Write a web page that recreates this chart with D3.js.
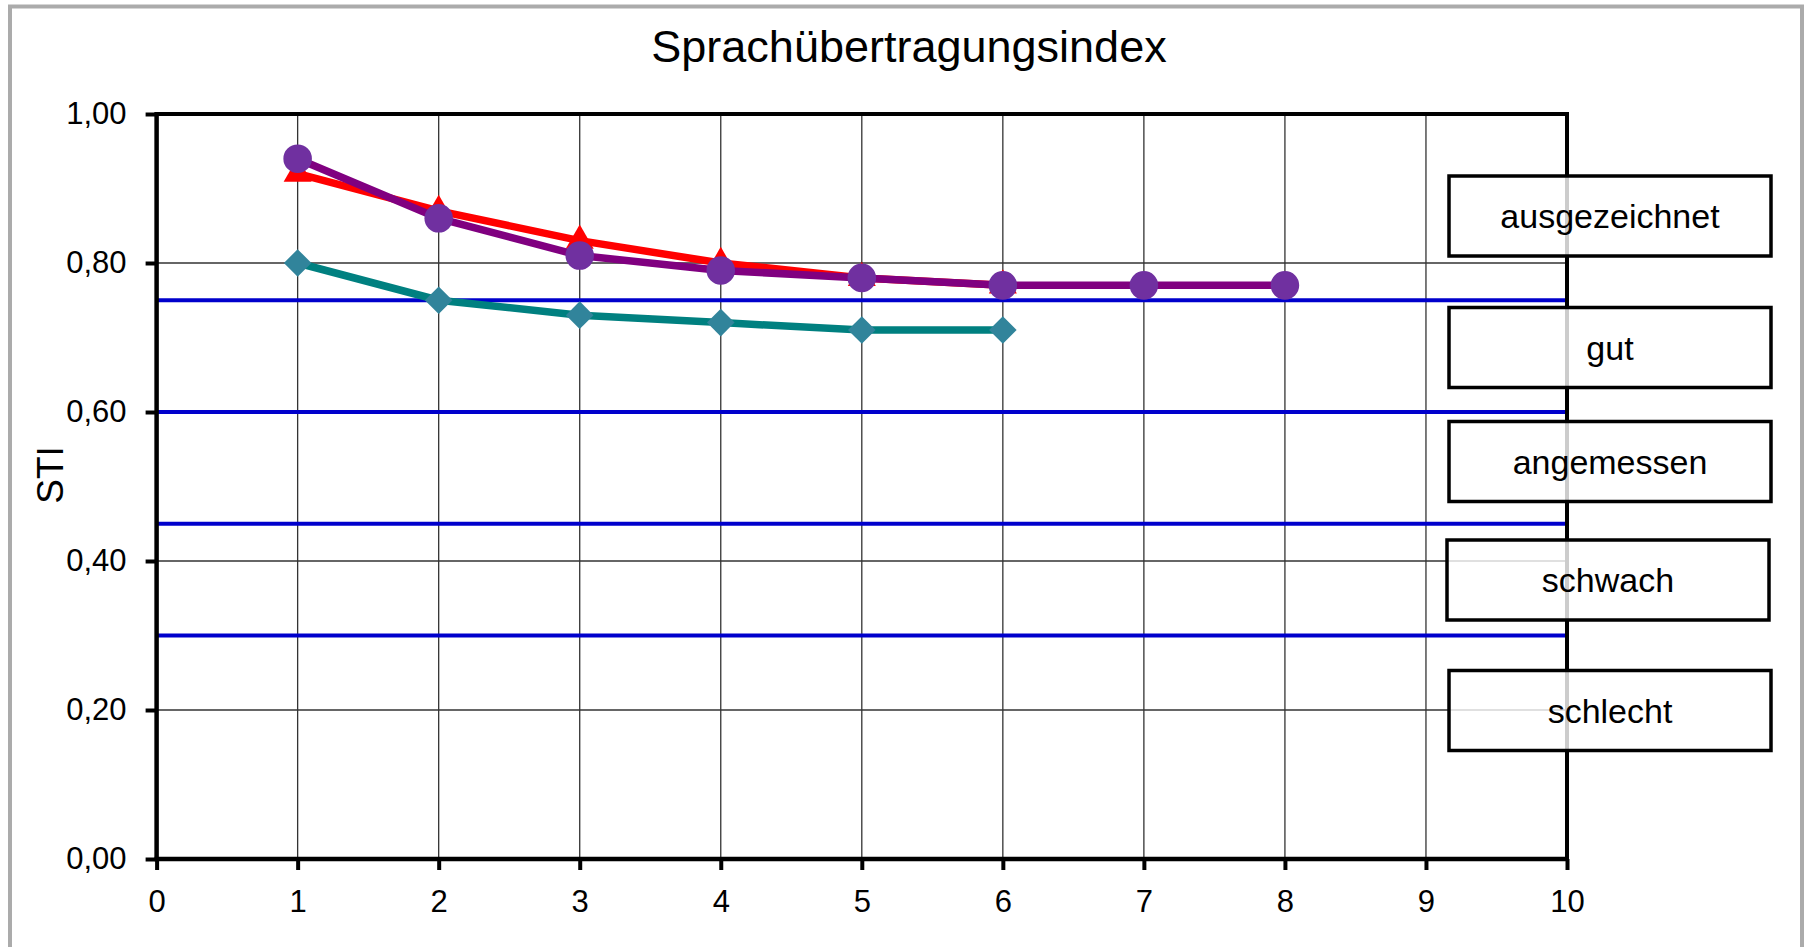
<!DOCTYPE html>
<html><head><meta charset="utf-8">
<script src="https://cdn.jsdelivr.net/npm/d3@7"></script>
<style>
body{margin:0;background:#fff;overflow:hidden}
svg{display:block}
text{font-family:"Liberation Sans",Arial,Helvetica,sans-serif;fill:#000}
</style>
</head><body>
<svg id="chart" width="1806" height="947"></svg>
<script>
// ---- data ----
const chartTitle = "Sprachübertragungsindex";
const yAxisLabel = "STI";
const xValues = [1, 2, 3, 4, 5, 6, 7, 8];
const tealValues = [0.80, 0.75, 0.73, 0.72, 0.71, 0.71];
const redValues = [0.92, 0.87, 0.83, 0.80, 0.78, 0.77];
const purpleValues = [0.94, 0.86, 0.81, 0.79, 0.78, 0.77, 0.77, 0.77];
const xTickValues = [0, 1, 2, 3, 4, 5, 6, 7, 8, 9, 10];
const yTickValues = [0, 0.2, 0.4, 0.6, 0.8, 1.0];
const thresholdValues = [0.75, 0.60, 0.45, 0.30];
const ratingLabels = ["ausgezeichnet", "gut", "angemessen", "schwach", "schlecht"];

(function () {
// ---- layout ----
const svg = d3.select("#chart");
const pL = 156.6, pR = 1567, pT = 114, pB = 859;
const x = d3.scaleLinear().domain([0, 10]).range([pL, pR]);
const y = d3.scaleLinear().domain([0, 1]).range([pB, pT]);
const locale = d3.formatLocale({decimal: ",", thousands: ".", grouping: [3], currency: ["", "€"]});
const fmt = locale.format(".2f");

// outer frame
svg.append("rect").attr("x", 10).attr("y", 6.5).attr("width", 1792).attr("height", 1000)
  .attr("fill", "#fff").attr("stroke", "#ababab").attr("stroke-width", 4);

// title
svg.append("text").attr("x", 909).attr("y", 62).attr("text-anchor", "middle")
  .attr("font-size", 45).text(chartTitle);

// gridlines
const grid = svg.append("g");
grid.selectAll("line.v").data(xTickValues.slice(1, -1)).join("line").attr("class", "v")
  .attr("x1", d => x(d)).attr("x2", d => x(d)).attr("y1", pT).attr("y2", pB)
  .attr("stroke", "#333").attr("stroke-width", 1.3);
grid.selectAll("line.h").data(yTickValues.slice(1, -1)).join("line").attr("class", "h")
  .attr("x1", pL).attr("x2", pR).attr("y1", d => y(d)).attr("y2", d => y(d))
  .attr("stroke", "#333").attr("stroke-width", 1.3);

// threshold lines
svg.append("g").selectAll("line").data(thresholdValues).join("line")
  .attr("x1", pL).attr("x2", pR).attr("y1", d => y(d)).attr("y2", d => y(d))
  .attr("stroke", "#0000cc").attr("stroke-width", 4);

// frame (top & right)
svg.append("line").attr("x1", pL).attr("x2", pR).attr("y1", pT).attr("y2", pT)
  .attr("stroke", "#000").attr("stroke-width", 4);
svg.append("line").attr("x1", pR).attr("x2", pR).attr("y1", pT - 2).attr("y2", pB)
  .attr("stroke", "#000").attr("stroke-width", 4);

// axes
const xAxis = svg.append("g").attr("transform", `translate(0,${pB})`)
  .call(d3.axisBottom(x).tickValues(xTickValues).tickSizeInner(11).tickSizeOuter(0).tickPadding(20).tickFormat(d3.format("d")));
const yAxis = svg.append("g").attr("transform", `translate(${pL},0)`)
  .call(d3.axisLeft(y).tickValues(yTickValues).tickSizeInner(11).tickSizeOuter(0).tickPadding(19).tickFormat(fmt));
[xAxis, yAxis].forEach(a => {
  a.select(".domain").attr("stroke", "#000").attr("stroke-width", 4.5);
  a.selectAll(".tick line").attr("stroke", "#000").attr("stroke-width", 4);
  a.selectAll(".tick text").attr("font-size", 31).attr("font-family", '"Liberation Sans",Arial,sans-serif').attr("fill", "#000");
});
xAxis.select(".domain").attr("d", `M${pL - 2},0H${pR + 2}`);
yAxis.select(".domain").attr("d", `M0,${pT - 2}V${pB + 2}`);

// y label
svg.append("text").attr("transform", "translate(63,475) rotate(-90)")
  .attr("text-anchor", "middle").attr("font-size", 37).text(yAxisLabel);

// series
const line = d3.line().x((d, i) => x(xValues[i])).y(d => y(d));
function drawSeries(values, lineColor, markerColor, symbolType, size, rot) {
  const g = svg.append("g");
  g.append("path").datum(values).attr("d", line).attr("fill", "none")
    .attr("stroke", lineColor).attr("stroke-width", 7.5).attr("stroke-linejoin", "round");
  g.selectAll("path.m").data(values).join("path").attr("class", "m")
    .attr("transform", (d, i) => `translate(${x(xValues[i])},${y(d)}) rotate(${rot})`)
    .attr("d", d3.symbol().type(symbolType).size(size)).attr("fill", markerColor);
}
drawSeries(tealValues, "#008080", "#31849b", d3.symbolSquare, 380, 45);
drawSeries(redValues, "#ff0000", "#ff0000", d3.symbolTriangle, 340, 0);
drawSeries(purpleValues, "#800080", "#7030a0", d3.symbolCircle, 640, 0);

// rating boxes
const boxPos = [
  {x: 1449, y: 176, w: 322, h: 80},
  {x: 1449, y: 307.5, w: 322, h: 80},
  {x: 1449, y: 421.5, w: 322, h: 80},
  {x: 1447, y: 540, w: 322, h: 80},
  {x: 1449, y: 670.5, w: 322, h: 80}
];
const boxes = svg.append("g").selectAll("g").data(ratingLabels).join("g")
  .attr("transform", (d, i) => `translate(${boxPos[i].x},${boxPos[i].y})`);
boxes.append("rect").attr("width", (d, i) => boxPos[i].w).attr("height", (d, i) => boxPos[i].h)
  .attr("fill", "#fff").attr("fill-opacity", 0.8).attr("stroke", "#000").attr("stroke-width", 3.5);
boxes.append("text").attr("x", (d, i) => boxPos[i].w / 2).attr("y", (d, i) => boxPos[i].h / 2 + 12)
  .attr("text-anchor", "middle").attr("font-size", 34).text(d => d);
})();
</script>
</body></html>
